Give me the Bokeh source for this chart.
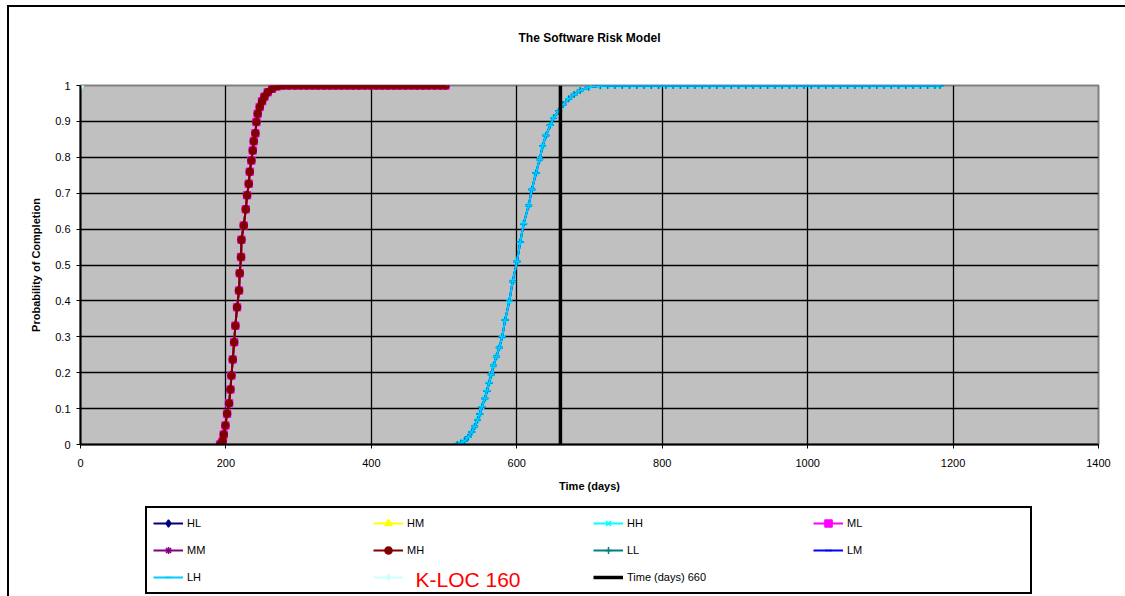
from bokeh.plotting import figure
from bokeh.layouts import column
from bokeh.models import (Range1d, FixedTicker, CustomJSTickFormatter, Legend,
                          LegendItem, Label, ColumnDataSource)
from bokeh.embed import file_html
from bokeh.resources import INLINE

FONT = "Liberation Sans"

# ---- data ----
TITLE = "The Software Risk Model"
X_TICKS = [0, 200, 400, 600, 800, 1000, 1200, 1400]
Y_TICKS = [0, 0.1, 0.2, 0.3, 0.4, 0.5, 0.6, 0.7, 0.8, 0.9, 1.0]

# left group of curves (HL, HM, ML, MM, MH)
LEFT_DAYS = [192, 194, 195.5, 197, 199.3, 201.6, 204.3, 206.2, 207.6, 209.4,
             211.3, 213, 215.3, 218, 219, 220.8, 221.3, 224.5, 227.3, 229.1,
             231.4, 232.8, 235, 236.9, 238.3, 240.5, 241.9, 243.7, 246.5, 249.7,
             252.9, 257.5, 263.5, 271.2,
             279, 287, 295, 303, 311, 319, 327, 335, 343, 351, 359, 367, 375,
             383, 391, 399, 407, 415, 423, 431, 439, 447, 455, 463, 471, 479,
             487, 495, 502]
LEFT_PROB = [0, 0.003, 0.01, 0.028, 0.053, 0.086, 0.115, 0.153, 0.192, 0.237,
             0.285, 0.331, 0.382, 0.429, 0.477, 0.522, 0.570, 0.610, 0.655, 0.694,
             0.726, 0.760, 0.791, 0.819, 0.845, 0.867, 0.898, 0.921, 0.940, 0.956,
             0.969, 0.981, 0.991, 0.998,
             1, 1, 1, 1, 1, 1, 1, 1, 1, 1, 1, 1, 1,
             1, 1, 1, 1, 1, 1, 1, 1, 1, 1, 1, 1, 1,
             1, 1, 1]

# right group of curves (HH, LL, LM, LH)
RIGHT_DAYS = [518, 523, 528, 533, 538, 542, 546, 549, 552, 556, 559, 562, 565,
              568, 572, 576, 580, 584, 589.7, 594.3, 600.3, 604.8, 609.4, 616.3,
              620.8, 626.4, 631.4, 635.5, 640.1, 646, 650.6, 657.5, 663.5, 671.3,
              679, 687.3, 698.7, 714.8,
              725, 735, 745, 755, 765, 775, 785, 795, 805, 815, 825, 835, 845,
              855, 865, 875, 885, 895, 905, 915, 925, 935, 945, 955, 965, 975,
              985, 995, 1005, 1015, 1025, 1035, 1045, 1055, 1065, 1075, 1085,
              1095, 1105, 1115, 1125, 1135, 1145, 1155, 1165, 1175, 1182]
RIGHT_PROB = [0, 0.004, 0.01, 0.02, 0.035, 0.05, 0.068, 0.085, 0.105, 0.128,
              0.15, 0.172, 0.195, 0.22, 0.245, 0.27, 0.3, 0.347, 0.399, 0.454,
              0.51, 0.564, 0.615, 0.666, 0.71, 0.756, 0.794, 0.831, 0.861, 0.889,
              0.91, 0.928, 0.947, 0.963, 0.975, 0.986, 0.995, 0.999,
              1, 1, 1, 1, 1, 1, 1, 1, 1, 1, 1, 1, 1,
              1, 1, 1, 1, 1, 1, 1, 1, 1, 1, 1, 1, 1,
              1, 1, 1, 1, 1, 1, 1, 1, 1, 1, 1,
              1, 1, 1, 1, 1, 1, 1, 1, 1, 1]

SERIES_NAMES = ["HL", "HM", "HH", "ML", "MM", "MH", "LL", "LM", "LH"]
SERIES_GROUP = ["left", "left", "right", "left", "left", "left", "right", "right", "right"]
SERIES_COLORS = ["#000080", "#FFFF00", "#00FFFF", "#FF00FF", "#800080",
                 "#800000", "#008080", "#0000FF", "#00CCFF"]
SERIES_MARKERS = ["diamond", "triangle", "x", "square", "asterisk",
                  "circle", "cross", "dash", "dash"]

KLOC_LABEL = "K-LOC 160"
KLOC_DAYS = [0]
KLOC_PROB = [1]

TIME_LABEL = "Time (days) 660"
TIME_DAYS = [660, 660]
TIME_PROB = [0, 1]

W = 1116
FRAME_W = 1018   # frames of the stacked figures are aligned with the main frame


def blank_fig(h):
    f = figure(width=W, height=h, output_backend="svg", toolbar_location=None,
               x_range=Range1d(0, FRAME_W), y_range=Range1d(0, h), min_border=0)
    f.axis.visible = False
    f.grid.visible = False
    f.outline_line_color = None
    f.background_fill_color = "white"
    f.border_fill_color = "white"
    return f


# ---- title strip ----
tf = blank_fig(73)
tf.add_layout(Label(x=FRAME_W / 2, y=43, text=TITLE, text_font=FONT,
                    text_font_size="12px", text_font_style="bold",
                    text_color="black", text_align="center",
                    text_baseline="middle"))

# ---- main plot ----
p = figure(width=W, height=420, output_backend="svg", toolbar_location=None,
           x_range=Range1d(0, 1400), y_range=Range1d(0, 1),
           min_border_left=71, min_border_right=27, min_border_top=5,
           min_border_bottom=56)

p.background_fill_color = "#C0C0C0"
p.border_fill_color = "white"
p.outline_line_color = "#808080"
p.outline_line_width = 2

for ax in (p.xaxis[0], p.yaxis[0]):
    ax.axis_line_color = "black"
    ax.axis_line_width = 2
    ax.major_tick_line_color = "black"
    ax.major_tick_line_width = 1
    ax.major_tick_out = 4
    ax.major_tick_in = 0
    ax.minor_tick_line_color = None
    ax.major_label_text_font = FONT
    ax.major_label_text_font_size = "11px"
    ax.major_label_text_color = "black"
    ax.axis_label_text_font = FONT
    ax.axis_label_text_font_size = "11px"
    ax.axis_label_text_font_style = "bold"
    ax.axis_label_text_color = "black"

p.xaxis.ticker = FixedTicker(ticks=X_TICKS)
p.yaxis.ticker = FixedTicker(ticks=Y_TICKS)
p.yaxis.formatter = CustomJSTickFormatter(code="return String(Math.round(tick*10)/10);")
p.xaxis.axis_label = "Time (days)"
p.yaxis.axis_label = "Probability of Completion"
p.xaxis.major_label_standoff = 10
p.xaxis.axis_label_standoff = 10
p.yaxis.major_label_standoff = 6
p.yaxis.axis_label_standoff = 10

for g in (p.xgrid[0], p.ygrid[0]):
    g.grid_line_color = "black"
    g.grid_line_width = 1.3

# ---- legend strip ----
lf = blank_fig(96)
lf.add_layout(Label(x=335, y=17, text=KLOC_LABEL, text_color="red",
                    text_font=FONT, text_font_size="21px",
                    text_baseline="middle", text_align="left"))

items = []
for name, grp, col, mk in zip(SERIES_NAMES, SERIES_GROUP, SERIES_COLORS, SERIES_MARKERS):
    if grp == "left":
        src = ColumnDataSource(dict(x=LEFT_DAYS, y=LEFT_PROB))
    else:
        src = ColumnDataSource(dict(x=RIGHT_DAYS, y=RIGHT_PROB))
    sz = 7 if mk in ("circle", "square", "dash", "x", "cross") else 6
    p.line("x", "y", source=src, line_color=col, line_width=2)
    p.scatter("x", "y", source=src, marker=mk, size=sz, line_color=col,
              fill_color=col, line_width=1.5)
    # legend sample glyphs (hidden renderers) in the legend strip
    ln = lf.line("x", "y", source=src, line_color=col, line_width=2, visible=False)
    sc = lf.scatter("x", "y", source=src, marker=mk, size=7, line_color=col,
                    fill_color=col, line_width=1.5, visible=False)
    items.append(LegendItem(label=name, renderers=[ln, sc]))

ksrc = ColumnDataSource(dict(x=KLOC_DAYS, y=KLOC_PROB))
p.scatter("x", "y", source=ksrc, marker="diamond", size=10,
          line_color="#CCFFFF", fill_color="#CCFFFF")
kl = lf.line("x", "y", source=ksrc, line_color="#CCFFFF", line_width=2, visible=False)
ks = lf.scatter("x", "y", source=ksrc, marker="diamond", size=10,
                line_color="#CCFFFF", fill_color="#CCFFFF", visible=False)
items.append(LegendItem(label=" ", renderers=[kl, ks]))

tsrc = ColumnDataSource(dict(x=TIME_DAYS, y=TIME_PROB))
p.line("x", "y", source=tsrc, line_color="black", line_width=3.5)
tl = lf.line("x", "y", source=tsrc, line_color="black", line_width=3.5, visible=False)
items.append(LegendItem(label=TIME_LABEL, renderers=[tl]))

legend = Legend(items=items, ncols=4, orientation="horizontal",
                location=(65, 2))
legend.label_text_font = FONT
legend.label_text_font_size = "11px"
legend.label_text_color = "black"
legend.glyph_width = 30
legend.glyph_height = 18
legend.label_height = 18
legend.label_standoff = 4
legend.label_width = 177
legend.spacing = 9
legend.padding = 6
legend.margin = 0
legend.border_line_color = "black"
legend.border_line_alpha = 1
legend.border_line_width = 2
legend.background_fill_alpha = 0
legend.inactive_fill_alpha = 0
lf.add_layout(legend, "center")

layout = column(tf, p, lf, spacing=0, margin=(5, 0, 0, 7))
layout.styles = {"border-top": "2px solid black", "border-left": "2px solid black"}

open("out.html", "w").write(file_html(layout, INLINE))
